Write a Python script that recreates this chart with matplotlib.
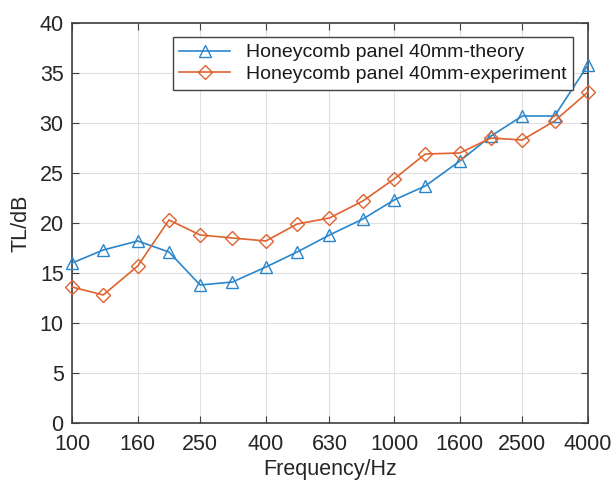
import matplotlib
matplotlib.use("Agg")
import matplotlib.pyplot as plt
from matplotlib.ticker import NullLocator, FixedLocator, FixedFormatter

freqs = [100, 125, 160, 200, 250, 315, 400, 500, 630, 800, 1000, 1250, 1600, 2000, 2500, 3150, 4000]
theory = [16.0, 17.3, 18.2, 17.1, 13.8, 14.1, 15.6, 17.1, 18.8, 20.4, 22.3, 23.7, 26.2, 28.7, 30.7, 30.7, 35.8]
experiment = [13.6, 12.8, 15.7, 20.3, 18.8, 18.5, 18.2, 19.9, 20.5, 22.2, 24.4, 26.9, 27.0, 28.5, 28.3, 30.2, 33.1]
xtick_vals = [100, 160, 250, 400, 630, 1000, 1600, 2500, 4000]
xtick_labels = ["100", "160", "250", "400", "630", "1000", "1600", "2500", "4000"]
yticks = [0, 5, 10, 15, 20, 25, 30, 35, 40]
labels = ["Honeycomb panel 40mm-theory", "Honeycomb panel 40mm-experiment"]

plt.rcParams['font.family'] = ['Liberation Sans', 'DejaVu Sans']

fig = plt.figure(figsize=(6.16, 4.84), dpi=100)
ax = fig.add_axes([72/616, 61/484, 516/616, 400/484])

blue = '#2a86cc'
orange = '#e0622e'
ax.plot(freqs, theory, '-', color=blue, marker='^', markersize=8.5, markerfacecolor='none',
        markeredgecolor=blue, markeredgewidth=1.0, linewidth=1.2, label=labels[0], clip_on=False,
        zorder=3)
ax.plot(freqs, experiment, '-', color=orange, marker='D', markersize=7.5, markerfacecolor='none',
        markeredgecolor=orange, markeredgewidth=1.0, linewidth=1.2, label=labels[1], clip_on=False,
        zorder=3)

ax.set_xscale('log')
ax.set_xlim(100, 4000)
ax.set_ylim(0, 40)
ax.xaxis.set_major_locator(FixedLocator(xtick_vals))
ax.xaxis.set_major_formatter(FixedFormatter(xtick_labels))
ax.xaxis.set_minor_locator(NullLocator())
ax.set_yticks(yticks)

axcol = '#404040'
for s in ax.spines.values():
    s.set_color(axcol)
    s.set_linewidth(1.2)
ax.tick_params(axis='both', which='major', direction='in', length=5, width=0.8, color=axcol,
               labelsize=15.5, labelcolor='#262626', top=True, right=True)
ax.tick_params(axis='x', pad=8)
ax.tick_params(axis='y', pad=6)
ax.grid(True, color='#e0e0e0', linewidth=0.8)
ax.set_axisbelow(True)

ax.set_xlabel('Frequency/Hz', fontsize=15.5, color='#262626', labelpad=3)
ax.set_ylabel('TL/dB', fontsize=15.5, color='#262626', labelpad=6)

leg = ax.legend(loc='upper right', bbox_to_anchor=(0.971, 0.965), borderaxespad=0,
                fontsize=14, fancybox=False, framealpha=1, edgecolor='#404040',
                handlelength=2.6, handletextpad=0.8, labelspacing=0.2, borderpad=0.35)
leg.get_frame().set_linewidth(1.0)
leg.set_zorder(5)
for t in leg.get_texts():
    t.set_color('#1a1a1a')

fig.savefig('out.png', dpi=100)
